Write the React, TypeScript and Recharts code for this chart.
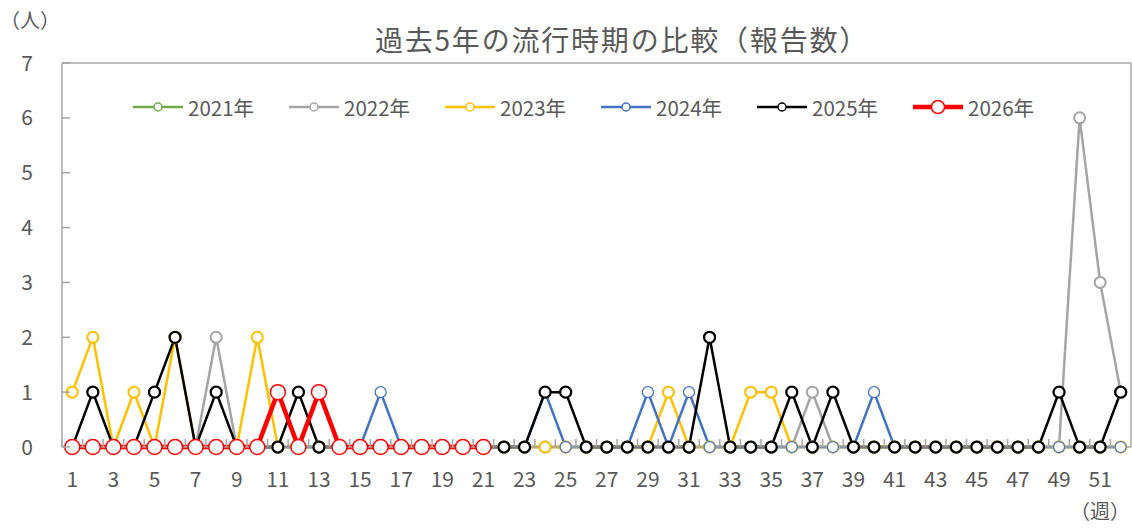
import { LineChart, Line, XAxis, YAxis, ReferenceLine, Legend } from 'recharts';

// 週番号 1〜52
const weeks = Array.from({ length: 52 }, (_, i) => i + 1);

const y2021 = [
  0, 0, 0, 0, 0, 0, 0, 0, 0, 0, 0, 0, 0,
  0, 0, 0, 0, 0, 0, 0, 0, 0, 0, 0, 0, 0,
  0, 0, 0, 0, 0, 0, 0, 0, 0, 0, 0, 0, 0,
  0, 0, 0, 0, 0, 0, 0, 0, 0, 0, 0, 0, 0,
];
const y2022 = [
  0, 0, 0, 0, 0, 0, 0, 2, 0, 0, 0, 0, 0,
  0, 0, 0, 0, 0, 0, 0, 0, 0, 0, 0, 0, 0,
  0, 0, 0, 0, 0, 0, 0, 0, 0, 0, 1, 0, 0,
  0, 0, 0, 0, 0, 0, 0, 0, 0, 0, 6, 3, 1,
];
const y2023 = [
  1, 2, 0, 1, 0, 2, 0, 0, 0, 2, 0, 0, 0,
  0, 0, 0, 0, 0, 0, 0, 0, 0, 0, 0, 0, 0,
  0, 0, 0, 1, 0, 0, 0, 1, 1, 0, 0, 0, 0,
  0, 0, 0, 0, 0, 0, 0, 0, 0, 0, 0, 0, 0,
];
const y2024 = [
  0, 0, 0, 0, 0, 0, 0, 0, 0, 0, 0, 0, 0,
  0, 0, 1, 0, 0, 0, 0, 0, 0, 0, 1, 0, 0,
  0, 0, 1, 0, 1, 0, 0, 0, 0, 0, 0, 0, 0,
  1, 0, 0, 0, 0, 0, 0, 0, 0, 0, 0, 0, 0,
];
const y2025 = [
  0, 1, 0, 0, 1, 2, 0, 1, 0, 0, 0, 1, 0,
  0, 0, 0, 0, 0, 0, 0, 0, 0, 0, 1, 1, 0,
  0, 0, 0, 0, 0, 2, 0, 0, 0, 1, 0, 1, 0,
  0, 0, 0, 0, 0, 0, 0, 0, 0, 1, 0, 0, 1,
];
const y2026: (number | null)[] = [
  0, 0, 0, 0, 0, 0, 0, 0, 0, 0, 1, 0, 1,
  0, 0, 0, 0, 0, 0, 0, 0, null, null, null, null, null,
  null, null, null, null, null, null, null, null, null, null, null, null, null,
  null, null, null, null, null, null, null, null, null, null, null, null, null,
];

const yTicks = [0, 1, 2, 3, 4, 5, 6, 7];

const series = [
  { key: 'y2021', label: '2021年', color: '#70AD47', width: 2.5, r: 5.5, dotWidth: 1.5 },
  { key: 'y2022', label: '2022年', color: '#A5A5A5', width: 2.5, r: 5.5, dotWidth: 2 },
  { key: 'y2023', label: '2023年', color: '#FFC000', width: 2.5, r: 5.5, dotWidth: 2 },
  { key: 'y2024', label: '2024年', color: '#4472C4', width: 2.5, r: 5.5, dotWidth: 1.25 },
  { key: 'y2025', label: '2025年', color: '#000000', width: 2.5, r: 5.5, dotWidth: 2.25 },
  { key: 'y2026', label: '2026年', color: '#FF0000', width: 4.5, r: 7.5, dotWidth: 1.5 },
];

const data = weeks.map((w, i) => ({
  week: w,
  y2021: y2021[i],
  y2022: y2022[i],
  y2023: y2023[i],
  y2024: y2024[i],
  y2025: y2025[i],
  y2026: y2026[i],
}));

const FONT = '"Noto Sans CJK JP", "Noto Sans", sans-serif';
const TEXT = '#595959';
const AXIS = '#A6A6A6';

const XTick = ({ x, y, payload }: any) => {
  const half = payload.offset || 10.28;
  return (
    <g>
      <line x1={x - half} y1={y} x2={x - half} y2={y - 8} stroke={AXIS} strokeWidth={1.5} />
      {payload.value % 2 === 1 && (
        <text x={x} y={y + 40} textAnchor="middle" fill={TEXT} fontSize={21} fontFamily={FONT}>
          {payload.value}
        </text>
      )}
    </g>
  );
};

const YTick = ({ x, y, payload }: any) => (
  <g>
    <line x1={x} y1={y} x2={x + 8} y2={y} stroke={AXIS} strokeWidth={1.5} />
    <text x={x - 29} y={y} dy="0.36em" textAnchor="end" fill={TEXT} fontSize={21} fontFamily={FONT}>
      {payload.value}
    </text>
  </g>
);

const LegendContent = () => (
  <div style={{ display: 'flex', alignItems: 'center', paddingLeft: 133, fontFamily: FONT }}>
    {series.map((s) => (
      <div key={s.key} style={{ display: 'flex', alignItems: 'center', marginRight: 35 }}>
        <svg width={50} height={20}>
          <line x1={0} y1={10} x2={50} y2={10} stroke={s.color} strokeWidth={s.width} />
          <circle cx={25} cy={10} r={s.key === 'y2026' ? 6.5 : 4} fill="#fff" stroke={s.color} strokeWidth={1.5} />
        </svg>
        <span style={{ marginLeft: 5, fontSize: 20.5, color: TEXT, lineHeight: 1 }}>{s.label}</span>
      </div>
    ))}
  </div>
);

export default function App() {
  return (
    <div style={{ position: 'absolute', left: 0, top: 0, width: 1132, height: 529, fontFamily: FONT, background: '#fff' }}>
      <div style={{ position: 'absolute', left: 0, top: 10, fontSize: 20, color: TEXT, lineHeight: 1, whiteSpace: 'nowrap' }}>（人）</div>
      <div style={{ position: 'absolute', left: 622, top: 25, transform: 'translateX(-50%)', fontSize: 28, letterSpacing: 1.8, color: TEXT, lineHeight: 1, whiteSpace: 'nowrap' }}>
        過去5年の流行時期の比較（報告数）
      </div>
      <div style={{ position: 'absolute', left: 1070, top: 501, fontSize: 20, color: TEXT, lineHeight: 1, whiteSpace: 'nowrap' }}>（週）</div>
      <LineChart width={1132} height={529} data={data} margin={{ top: 63, right: 1, left: 0, bottom: 0 }}>
        <XAxis
          dataKey="week"
          type="category"
          scale="band"
          interval={0}
          height={82}
          tickSize={0}
          tickMargin={0}
          axisLine={{ stroke: AXIS, strokeWidth: 1.5 }}
          tickLine={false}
          tick={<XTick />}
        />
        <YAxis
          domain={[0, 7]}
          ticks={yTicks}
          width={62}
          tickSize={0}
          tickMargin={0}
          axisLine={{ stroke: AXIS, strokeWidth: 1.5 }}
          tickLine={false}
          tick={<YTick />}
        />
        <ReferenceLine y={7} stroke={AXIS} strokeWidth={1.5} />
        <ReferenceLine x={52} position="end" stroke={AXIS} strokeWidth={1.5} />
        <Legend
          verticalAlign="middle"
          align="center"
          layout="horizontal"
          content={<LegendContent />}
          wrapperStyle={{ top: 97, left: 0, width: 1132 }}
        />
        {series.map((s) => (
          <Line
            key={s.key}
            type="linear"
            dataKey={s.key}
            name={s.label}
            stroke={s.color}
            strokeWidth={s.width}
            dot={{ r: s.r, fill: '#fff', stroke: s.color, strokeWidth: s.dotWidth }}
            activeDot={false}
            connectNulls={false}
            isAnimationActive={false}
          />
        ))}
      </LineChart>
    </div>
  );
}
